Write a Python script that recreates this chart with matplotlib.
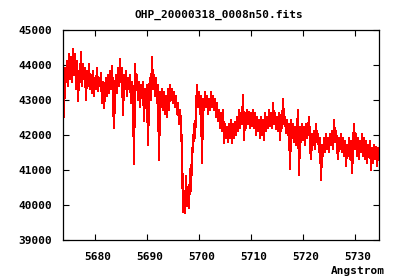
import numpy as np
import matplotlib
matplotlib.use("Agg")
import matplotlib.pyplot as plt
import matplotlib.transforms as mtransforms

TITLE = "OHP_20000318_0008n50.fits"
XLABEL = "Angstrom"

# wavelength grid of the spectrum (linear dispersion)
WAVE_START = 5673.94
WAVE_STEP = 0.1923

# flux values
flux = [
    44500, 42500, 43900, 43500, 44100, 43400, 44300, 43600, 44200, 43500,
    44450, 43700, 44300, 43300, 44100, 42950, 43800, 43500, 44350, 43400,
    44000, 43600, 43900, 43000, 43800, 43400, 44000, 43300, 43700, 43200,
    43800, 43100, 43600, 43300, 43900, 43250, 43600, 43400, 43750, 42900,
    43500, 42750, 43300, 43600, 43100, 43700, 43200, 43800, 43300, 43950,
    43100, 42180, 43300, 43700, 43200, 43900, 43400, 44150, 43500, 43900,
    42560, 43700, 43300, 43800, 43100, 43600, 43300, 43700, 42900, 43500,
    43200, 41150, 44000, 43300, 43700, 43000, 43500, 42800, 43400, 43100,
    43500, 42400, 43300, 42900, 43400, 41700, 43200, 43600, 43000, 44200,
    43300, 43700, 43100, 43600, 42900, 43400, 41270, 43200, 42800, 43300,
    42700, 43200, 42600, 43100, 42500, 43300, 42700, 43400, 43000, 43300,
    42900, 43200, 42800, 43100, 42600, 42900, 42300, 42700, 42300, 41500,
    39800, 40000, 39760, 40800, 39950, 40500, 39900, 41000, 40400, 41600,
    41500, 42300, 41900, 42700, 43400, 42800, 43200, 42600, 43100, 41200,
    43000, 42700, 43200, 42800, 43100, 42600, 43000, 42700, 43200, 42800,
    43100, 42700, 43000, 42500, 42900, 42400, 42700, 42200, 42600, 42100,
    42700, 41750, 42300, 41900, 42200, 41800, 42300, 41900, 42400, 41750,
    42300, 41900, 42350, 42000, 42500, 42100, 42700, 42200, 42600, 42300,
    43130, 41850, 42600, 42200, 42700, 42300, 42650, 42200, 42600, 42250,
    42700, 42200, 42600, 42000, 42500, 42100, 42400, 41900, 42500, 42000,
    42400, 41850, 42600, 42100, 42500, 42200, 42700, 42250, 42600, 42200,
    42900, 42300, 42600, 42150, 42500, 42100, 42600, 41850, 42550, 42200,
    43000, 42300, 42500, 42050, 42400, 42000, 42300, 41010, 42400, 41900,
    42300, 41800, 42200, 41700, 42100, 42700, 40840, 42200, 41800, 42300,
    41850, 42200, 41700, 42300, 41900, 42100, 42500, 41700, 41300, 42000,
    41700, 42100, 41600, 42300, 41800, 42000, 41500, 41900, 40700, 41700,
    41400, 41900, 41500, 42000, 41600, 41900, 41500, 42000, 41700, 42100,
    41600, 42400, 41800, 42100, 41700, 41300, 41900, 41600, 42000, 41500,
    41900, 41400, 41800, 41100, 41700, 41400, 41900, 41300, 41800, 40900,
    41700, 42300, 41600, 42000, 41400, 41900, 41300, 41800, 41500, 42000,
    41400, 41900, 41300, 41800, 41200, 41700, 41350, 41800, 41000, 41600,
    41200, 41700, 41300, 41650, 41100, 41600, 41300,
]

x_ticks = [5680, 5690, 5700, 5710, 5720, 5730]
y_ticks = [39000, 40000, 41000, 42000, 43000, 44000, 45000]

wave = WAVE_START + WAVE_STEP * np.arange(len(flux))

fig = plt.figure(figsize=(4.0, 2.8), dpi=100)
ax = fig.add_axes([63 / 400, 1 - 239.5 / 280, (379 - 63) / 400, (239.5 - 29.5) / 280])

ax.plot(wave, flux, color="#ff0000", linewidth=0.9, antialiased=False)

ax.set_xlim(5673.94, 5734.7)
ax.set_ylim(39000, 45000)

font = dict(family="DejaVu Sans Mono", weight="bold", size=8)

ax.set_xticks(x_ticks)
ax.set_yticks(y_ticks)
ax.set_xticklabels([str(v) for v in x_ticks], **font)
ax.set_yticklabels([str(v) for v in y_ticks], **font)
ax.tick_params(direction="in", length=4, width=0.8, top=True, right=True,
               colors="black")
ax.tick_params(axis="x", pad=9)
ax.tick_params(axis="y", pad=8)
offset = mtransforms.ScaledTranslation(3 / 100, 0, fig.dpi_scale_trans)
for lab in ax.get_xticklabels():
    lab.set_transform(lab.get_transform() + offset)

for sp in ax.spines.values():
    sp.set_linewidth(0.9)
    sp.set_color("black")

fig.text(219 / 400, 1 - 14.5 / 280, TITLE, ha="center", va="center", **font)
fig.text(385 / 400, 1 - 270.5 / 280, XLABEL, ha="right", va="center", **font)

fig.savefig("out.png", dpi=100, facecolor="white")
